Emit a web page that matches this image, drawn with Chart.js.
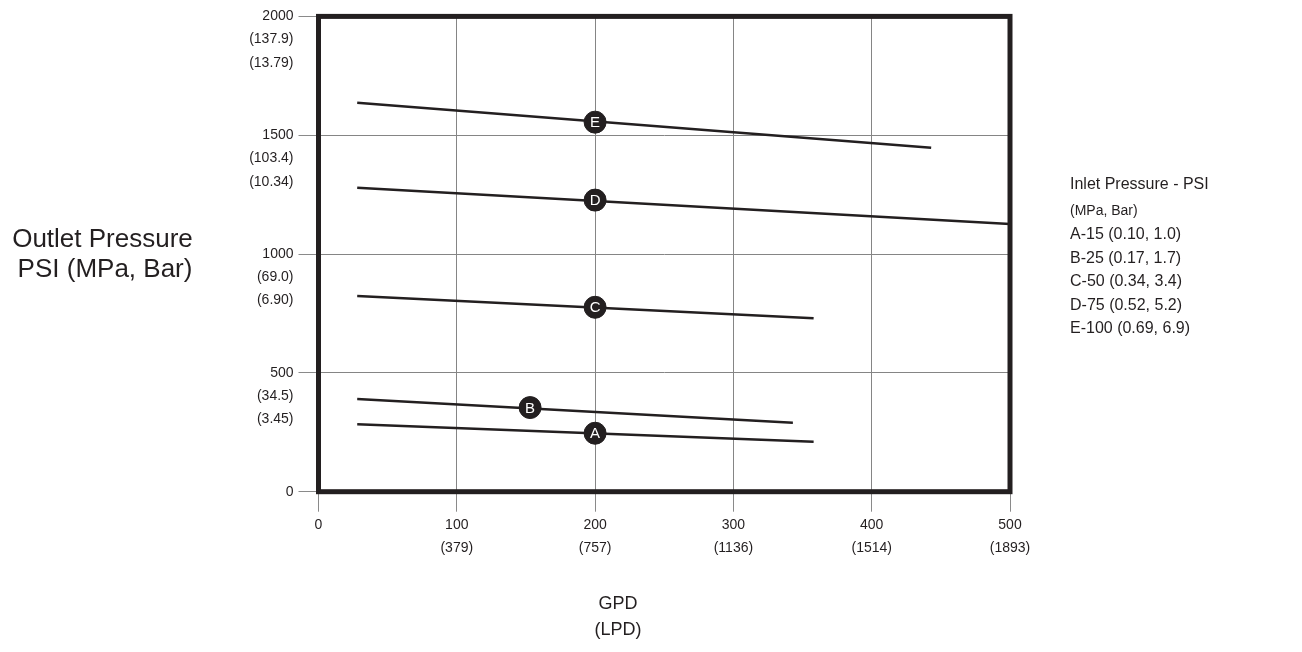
<!DOCTYPE html>
<html>
<head>
<meta charset="utf-8">
<title>Outlet Pressure vs GPD</title>
<script src="https://cdn.jsdelivr.net/npm/chart.js@4/dist/chart.umd.min.js"></script>
<style>
  body { margin: 0; background: #ffffff; }
  #contenedor { position: relative; width: 1302px; height: 652px; }
</style>
</head>
<body>
<div id="contenedor"><canvas id="grafica"></canvas></div>
<script>
  // Curvas de presion de entrada (A..E), dos puntos por recta
  const curveNames = ['A', 'B', 'C', 'D', 'E'];
  const startGpd = [28, 28, 28, 28, 28];
  const startPsi = [284, 390, 823, 1279, 1637];
  const endGpd = [358, 343, 358, 500, 443];
  const endPsi = [210, 290, 730, 1126, 1447];

  // Marcadores con letra
  const markerGpd = [200, 153, 200, 200, 200];
  const markerPsi = [246, 354, 776, 1227, 1555];

  // Etiquetas de los ejes
  const xTickValues = [0, 100, 200, 300, 400, 500];
  const xTickLabels = [['0'], ['100', '(379)'], ['200', '(757)'], ['300', '(1136)'], ['400', '(1514)'], ['500', '(1893)']];
  const yTickValues = [0, 500, 1000, 1500, 2000];
  const yTickLabels = [['0'], ['500', '(34.5)', '(3.45)'], ['1000', '(69.0)', '(6.90)'], ['1500', '(103.4)', '(10.34)'], ['2000', '(137.9)', '(13.79)']];

  const yTitle = ['Outlet Pressure', 'PSI (MPa, Bar)'];
  const xTitle = ['GPD', '(LPD)'];
  const legendTitle = 'Inlet Pressure - PSI';
  const legendUnits = '(MPa, Bar)';
  const legendItems = ['A-15 (0.10, 1.0)', 'B-25 (0.17, 1.7)', 'C-50 (0.34, 3.4)', 'D-75 (0.52, 5.2)', 'E-100 (0.69, 6.9)'];

  const fuente = "'Liberation Sans', Arial, Helvetica, sans-serif";
  const negro = '#231f20';

  // datasets de las rectas
  const datasetsRectas = curveNames.map(function (n, i) {
    return {
      label: n,
      data: [{ x: startGpd[i], y: startPsi[i] }, { x: endGpd[i], y: endPsi[i] }],
      showLine: true,
      borderColor: negro,
      borderWidth: 2.5,
      pointRadius: 0,
      order: 2
    };
  });

  const datasetMarcadores = {
    label: 'marcadores',
    data: markerGpd.map(function (g, i) { return { x: g, y: markerPsi[i] }; }),
    showLine: false,
    pointRadius: 11,
    pointHoverRadius: 11,
    pointBackgroundColor: negro,
    pointBorderColor: negro,
    order: 1
  };

  // plugin: letras, marco grueso y textos libres
  const pluginTextos = {
    id: 'textos',
    afterDatasetsDraw: function (chart) {
      const ctx = chart.ctx;
      const meta = chart.getDatasetMeta(0); // marcadores
      ctx.save();
      ctx.fillStyle = '#ffffff';
      ctx.font = '15px ' + fuente;
      ctx.textAlign = 'center';
      ctx.textBaseline = 'middle';
      meta.data.forEach(function (p, i) {
        ctx.fillText(curveNames[i], p.x, p.y + 1);
      });
      ctx.restore();
    },
    afterDraw: function (chart) {
      const ctx = chart.ctx;
      const a = chart.chartArea;
      ctx.save();
      ctx.strokeStyle = negro;
      ctx.lineWidth = 5;
      ctx.strokeRect(a.left, a.top, a.right - a.left, a.bottom - a.top);

      ctx.fillStyle = negro;
      ctx.textBaseline = 'middle';
      // titulo eje y
      ctx.textAlign = 'center';
      ctx.font = '26px ' + fuente;
      ctx.fillText(yTitle[0], 102.5, 240);
      ctx.fillText(yTitle[1], 105, 270);
      // titulo eje x
      ctx.font = '18px ' + fuente;
      ctx.fillText(xTitle[0], 618, 604);
      ctx.fillText(xTitle[1], 618, 630);
      // leyenda
      ctx.textAlign = 'left';
      ctx.font = '16px ' + fuente;
      ctx.fillText(legendTitle, 1070, 185);
      ctx.font = '14px ' + fuente;
      ctx.fillText(legendUnits, 1070, 211);
      ctx.font = '16px ' + fuente;
      legendItems.forEach(function (t, i) {
        ctx.fillText(t, 1070, 235 + i * 23.5);
      });
      ctx.restore();
    }
  };

  const $grafica = document.querySelector('#grafica');
  new Chart($grafica, {
    type: 'scatter',
    data: {
      datasets: [datasetMarcadores].concat(datasetsRectas)
    },
    options: {
      responsive: true,
      maintainAspectRatio: false,
      animation: false,
      events: [],
      layout: { padding: { left: 0, right: 292, top: 16.4, bottom: 0 } },
      plugins: {
        legend: { display: false },
        tooltip: { enabled: false }
      },
      scales: {
        x: {
          type: 'linear',
          min: 0,
          max: 500,
          afterBuildTicks: function (s) {
            s.ticks = xTickValues.map(function (v) { return { value: v }; });
          },
          ticks: {
            autoSkip: false,
            maxRotation: 0,
            padding: 2,
            color: negro,
            font: { family: fuente, size: 14, lineHeight: 1.66 },
            callback: function (v) {
              const i = xTickValues.indexOf(v);
              return i < 0 ? '' : xTickLabels[i];
            }
          },
          grid: { color: '#858585', lineWidth: 1, tickLength: 20, tickColor: '#8a8a8a' },
          border: { display: false },
          afterFit: function (s) {
            s.height = 160.3;
            s.paddingLeft = 0;
            s.paddingRight = 0;
          }
        },
        y: {
          type: 'linear',
          min: 0,
          max: 2000,
          afterBuildTicks: function (s) {
            s.ticks = yTickValues.map(function (v) { return { value: v }; });
          },
          ticks: {
            autoSkip: false,
            padding: 5,
            color: negro,
            font: { family: fuente, size: 14, lineHeight: 1.66 },
            callback: function (v) {
              const i = yTickValues.indexOf(v);
              if (i < 0) return '';
              const l = yTickLabels[i];
              return l.length > 1 ? ['', ''].concat(l) : l[0];
            }
          },
          grid: { color: '#858585', lineWidth: 1, tickLength: 20, tickColor: '#8a8a8a' },
          border: { display: false },
          afterFit: function (s) {
            s.width = 318.5;
            s.paddingTop = 0;
            s.paddingBottom = 0;
          }
        }
      }
    },
    plugins: [pluginTextos]
  });
</script>
</body>
</html>
